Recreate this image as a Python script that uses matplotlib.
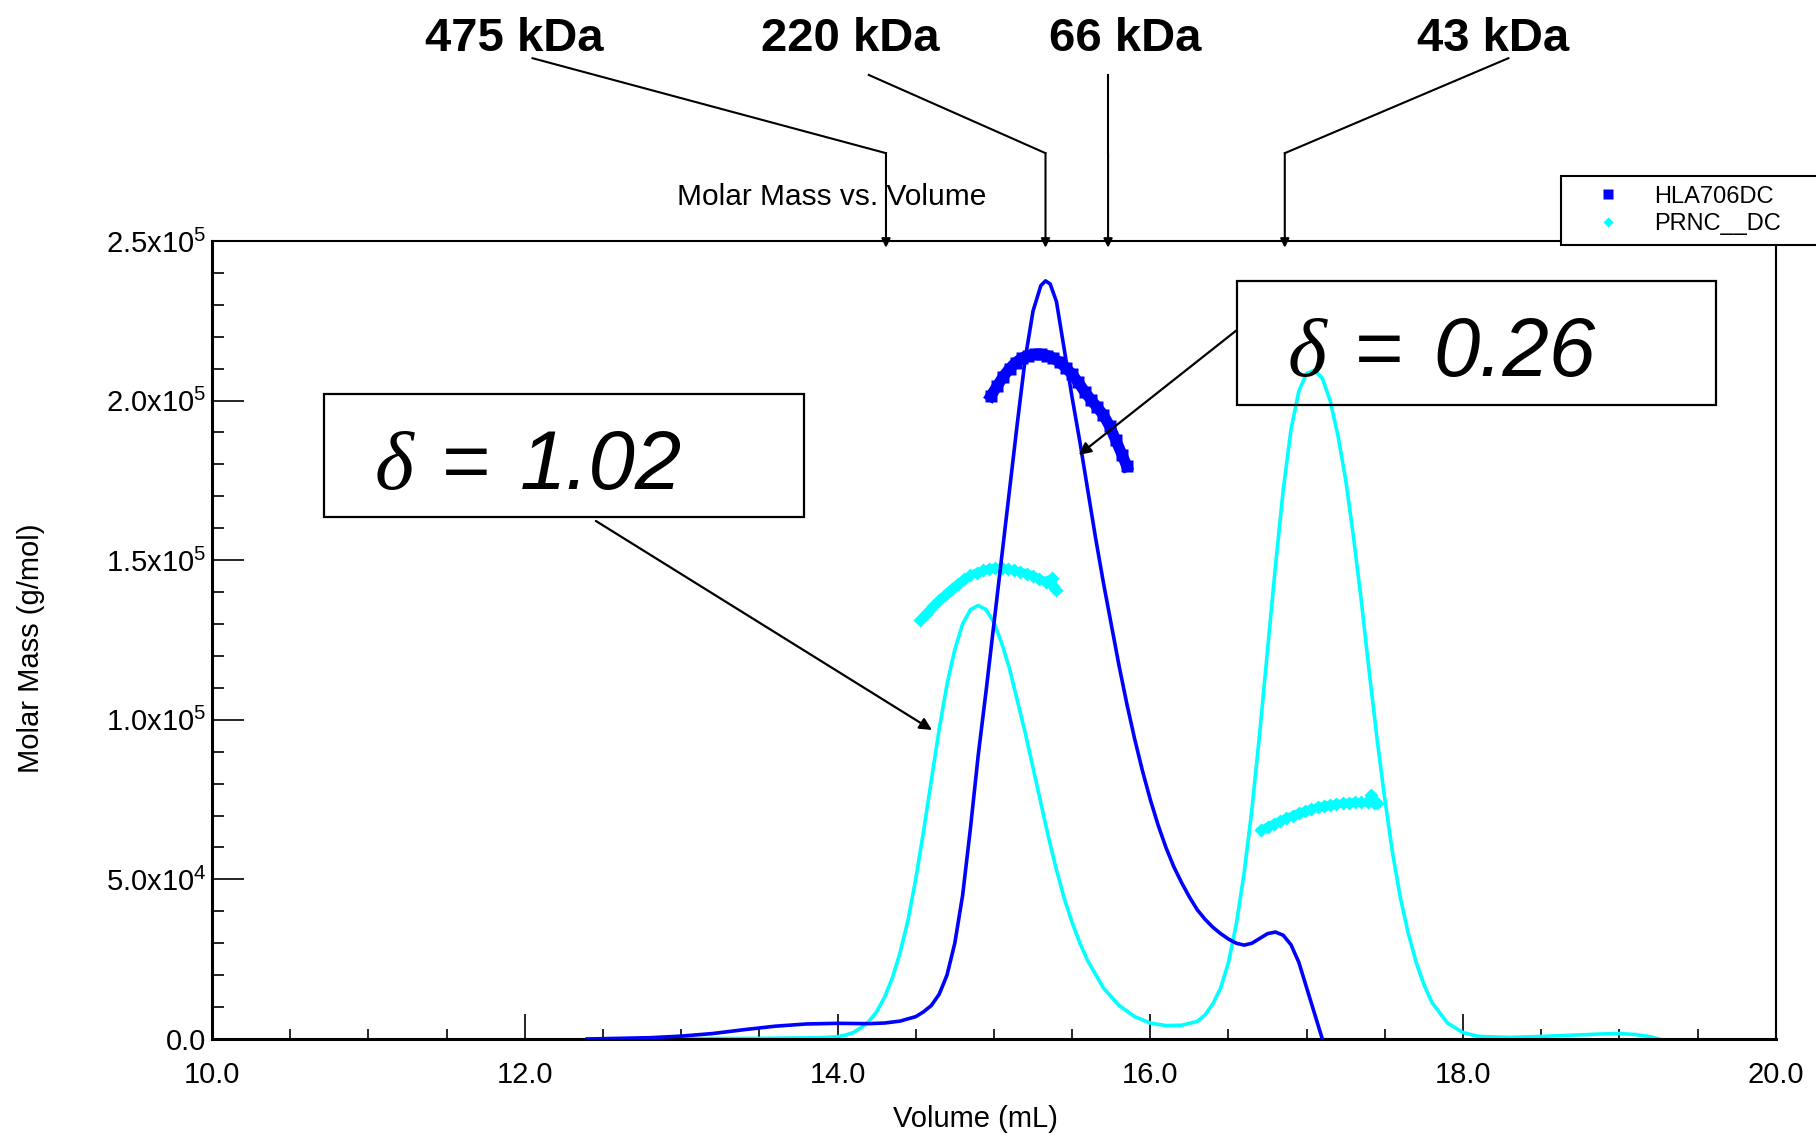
import numpy as np
import matplotlib
matplotlib.use("Agg")
import matplotlib.pyplot as plt
from matplotlib.patches import Rectangle
from matplotlib.ticker import MultipleLocator, FuncFormatter
from matplotlib.transforms import blended_transform_factory

plt.rcParams['font.family'] = ['Liberation Sans', 'DejaVu Sans']
plt.rcParams['mathtext.fontset'] = 'custom'
plt.rcParams['mathtext.rm'] = 'Liberation Sans'

# concentration traces (scaled onto the molar mass axis)
hla_vol = [12.40, 12.80, 13.00, 13.20, 13.40, 13.60, 13.80, 14.00, 14.20, 14.30, 14.40,
           14.50, 14.55, 14.60, 14.65, 14.70, 14.75, 14.80, 14.85, 14.90, 14.95, 15.00,
           15.05, 15.10, 15.15, 15.20, 15.25, 15.30, 15.33, 15.36, 15.40, 15.43, 15.50,
           15.55, 15.60, 15.65, 15.70, 15.75, 15.80, 15.85, 15.90, 15.95, 16.00, 16.05,
           16.10, 16.15, 16.20, 16.25, 16.30, 16.35, 16.40, 16.45, 16.50, 16.55, 16.60,
           16.65, 16.70, 16.75, 16.80, 16.85, 16.90, 16.95, 17.00, 17.05, 17.10]
hla_sig = [0, 400, 900, 1700, 2900, 4000, 4700, 4900, 4800, 5000, 5600,
           7000, 8500, 10500, 14000, 20000, 30000, 45000, 66000, 89000, 109000, 130000,
           151000, 172000, 193000, 213000, 228000, 236000, 237500, 236500, 231000, 222000, 201000,
           187000, 172000, 157000, 143000, 130000, 117000, 105000, 94000, 84000, 75000, 67000,
           60000, 54000, 49000, 44500, 40500, 37500, 35000, 33000, 31300, 30000, 29400,
           30000, 31500, 33000, 33500, 32500, 29500, 24000, 16000, 8000, 0]

prnc_vol = [12.40, 13.00, 13.50, 13.90, 14.00, 14.05, 14.10, 14.15, 14.20, 14.25, 14.30,
            14.35, 14.40, 14.45, 14.50, 14.55, 14.60, 14.65, 14.70, 14.75, 14.80, 14.85,
            14.90, 14.95, 15.00, 15.05, 15.10, 15.15, 15.20, 15.25, 15.30, 15.35, 15.40,
            15.45, 15.50, 15.55, 15.60, 15.70, 15.80, 15.90, 16.00, 16.10, 16.20, 16.30,
            16.35, 16.40, 16.45, 16.50, 16.55, 16.60, 16.65, 16.70, 16.75, 16.80, 16.85,
            16.90, 16.95, 17.00, 17.05, 17.10, 17.15, 17.20, 17.25, 17.30, 17.35, 17.40,
            17.45, 17.50, 17.55, 17.60, 17.65, 17.70, 17.75, 17.80, 17.90, 18.00, 18.10,
            18.30, 18.50, 18.70, 18.90, 19.00, 19.10, 19.20, 19.25]
prnc_sig = [0, 100, 200, 400, 700, 1200, 2000, 3500, 5500, 8500, 13000,
            19000, 27000, 37000, 50000, 65000, 81000, 97000, 111000, 122000, 130000, 134500,
            135800, 134500, 130500, 124000, 116000, 106000, 96000, 85000, 74000, 63000, 53000,
            44000, 36500, 30000, 24500, 16000, 10500, 7000, 5000, 4200, 4300, 5500,
            7500, 11000, 16000, 24000, 36000, 52000, 72000, 96000, 122000, 148000, 172000,
            191000, 203000, 208500, 209500, 207000, 200000, 189000, 175000, 157000, 137000, 115000,
            94000, 75000, 58000, 44000, 33000, 24000, 17000, 11500, 5000, 2000, 800,
            500, 800, 1200, 1600, 1700, 1400, 700, 0]

# molar mass across the peaks
hla_mm_vol = [14.98, 15.02, 15.06, 15.10, 15.14, 15.18, 15.22, 15.26, 15.30, 15.34, 15.38,
              15.42, 15.46, 15.50, 15.54, 15.58, 15.62, 15.66, 15.70, 15.74, 15.78, 15.82, 15.85]
hla_mm = [201400, 204500, 207500, 210000, 211900, 213300, 214100, 214500, 214500, 214100, 213300,
          212000, 210300, 208200, 205700, 202800, 200300, 197900, 195500, 192000, 187500, 183000, 179400]

prnc_mm_vol = [14.53, 14.57, 14.61, 14.65, 14.69, 14.73, 14.77, 14.81, 14.85, 14.89, 14.93,
               14.97, 15.01, 15.05, 15.09, 15.13, 15.17, 15.21, 15.25, 15.29, 15.33, 15.37,
               15.38, 15.40,
               16.71, 16.75, 16.79, 16.83, 16.87, 16.91, 16.95, 16.99, 17.03, 17.07, 17.11,
               17.15, 17.19, 17.23, 17.27, 17.31, 17.35, 17.39, 17.41, 17.43, 17.45]
prnc_mm = [131300, 133500, 135500, 137400, 139200, 141000, 142600, 144000, 145200, 146100, 146800,
           147300, 147600, 147500, 147200, 146800, 146300, 145800, 145100, 144200, 143300, 144300,
           142000, 140800,
           65400, 66500, 67400, 68300, 69100, 70000, 70800, 71500, 72100, 72600, 73000,
           73300, 73600, 73800, 74000, 74100, 74100, 74100, 76400, 74000, 73800]

# calibration standards
std_labels = ['475 kDa', '220 kDa', '66 kDa', '43 kDa']
std_vol = [14.31, 15.33, 15.73, 16.86]

# polydispersity callouts
delta_values = ['1.02', '0.26']

fig = plt.figure(figsize=(18.16, 11.36), dpi=100)
ax = fig.add_axes([0.1167, 0.0854, 0.8612, 0.7025])

ax.plot(prnc_vol, prnc_sig, color='#00ffff', lw=2.6, zorder=2)
ax.plot(prnc_mm_vol[:24], prnc_mm[:24], ls='-', lw=6, marker='D', ms=7, mec='none',
        color='#00ffff', zorder=3, label='PRNC__DC')
ax.plot(prnc_mm_vol[24:], prnc_mm[24:], ls='-', lw=6, marker='D', ms=7, mec='none',
        color='#00ffff', zorder=3)
ax.plot(hla_vol, hla_sig, color='#0000ff', lw=2.6, zorder=4)
ax.plot(hla_mm_vol, hla_mm, ls='-', lw=8, marker='s', ms=8.5, mec='none',
        color='#0000ff', zorder=5, label='HLA706DC')

ax.set_xlim(10, 20)
ax.set_ylim(0, 2.5e5)
ax.xaxis.set_major_locator(MultipleLocator(2))
ax.xaxis.set_minor_locator(MultipleLocator(0.5))
ax.yaxis.set_major_locator(MultipleLocator(5e4))
ax.yaxis.set_minor_locator(MultipleLocator(1e4))
ax.xaxis.set_major_formatter(FuncFormatter(lambda v, p: '%.1f' % v))


def mm_fmt(v, pos):
    if v <= 0:
        return '0.0'
    e = int(np.floor(np.log10(v)))
    return r'$\mathregular{%.1fx10^{%d}}$' % (v / 10 ** e, e)


ax.yaxis.set_major_formatter(FuncFormatter(mm_fmt))
ax.tick_params(which='both', direction='in', top=False, right=False, width=1.2)
ax.tick_params(axis='x', which='major', length=18, labelsize=21, pad=16)
ax.tick_params(axis='x', which='minor', length=7.5)
ax.tick_params(axis='y', which='major', length=23, labelsize=21, pad=4)
ax.tick_params(axis='y', which='minor', length=8.5)
for side in ['left', 'bottom']:
    ax.spines[side].set_linewidth(2.2)
for side in ['top', 'right']:
    ax.spines[side].set_linewidth(1.5)

ax.set_xlabel('Volume (mL)', fontsize=21, va='center')
ax.xaxis.set_label_coords(0.488, -0.1)
ax.set_ylabel('Molar Mass (g/mol)', fontsize=21, va='center')
ax.yaxis.set_label_coords(-0.116, 0.49)
ax.text(0.396, 1.045, 'Molar Mass vs. Volume', transform=ax.transAxes,
        ha='center', va='baseline', fontsize=21.5)

# standard markers above the plot
trans = blended_transform_factory(ax.transData, ax.transAxes)
label_x = [11.93, 14.08, 15.84, 18.19]
leader_x = [12.05, 14.20, 15.73, 18.29]
leader_y = [1.229, 1.208, 1.208, 1.229]
for lab, v, tx, lx, ly in zip(std_labels, std_vol, label_x, leader_x, leader_y):
    ax.text(tx, 1.238, lab, transform=trans, ha='center', va='baseline',
            fontsize=34, fontweight='bold', clip_on=False)
    ax.plot([lx, v], [ly, 1.110], transform=trans, color='black', lw=1.5, clip_on=False)
    ax.annotate('', xy=(v, 0.9915), xytext=(v, 1.110), xycoords=trans, textcoords=trans,
                arrowprops=dict(arrowstyle='-|>', color='black', lw=1.5,
                                mutation_scale=13, shrinkA=0, shrinkB=0))

# delta callout boxes with arrows
boxes = [(10.716, 163530, 3.069, 38540), (16.554, 198620, 3.062, 38850)]
text_x = [(11.042, 11.471, 11.969), (16.880, 17.308, 17.807)]
text_y = [172300, 207700]
arrows = [((12.455, 162280), (14.604, 96800)), ((16.554, 222100), (15.543, 182960))]
for (bx, by, bw, bh), (dx, ex, nx), ty, val, (a0, a1) in zip(boxes, text_x, text_y,
                                                              delta_values, arrows):
    ax.add_patch(Rectangle((bx, by), bw, bh, fill=False, edgecolor='black', lw=1.6,
                           zorder=6, clip_on=False))
    ax.text(dx, ty, '\u03b4', fontsize=60, style='italic', va='baseline',
            family=['Liberation Serif', 'DejaVu Serif'], zorder=7)
    ax.text(ex, ty, '=', fontsize=60, va='baseline', zorder=7)
    ax.text(nx, ty, val, fontsize=60, style='italic', va='baseline', zorder=7)
    ax.annotate('', xy=a1, xytext=a0,
                arrowprops=dict(arrowstyle='-|>', color='black', lw=1.6,
                                mutation_scale=18, shrinkA=0, shrinkB=0), zorder=7)

h, l = ax.get_legend_handles_labels()
order = [l.index('HLA706DC'), l.index('PRNC__DC')]
leg = ax.legend([h[i] for i in order], [l[i] for i in order],
                loc='upper left', bbox_to_anchor=(0.8596, 0.845, 0.2, 0),
                bbox_transform=fig.transFigure, mode='expand', borderaxespad=0,
                fontsize=17, handlelength=3.2, handletextpad=0.35, labelspacing=0.25,
                borderpad=0.4, markerscale=0.8, fancybox=False, framealpha=1,
                edgecolor='black')
leg.get_frame().set_linewidth(1.5)
for line in leg.get_lines():
    line.set_linestyle('none')
leg.set_zorder(8)

fig.savefig('out.png', dpi=100)
